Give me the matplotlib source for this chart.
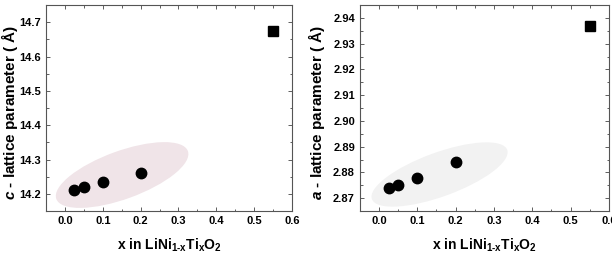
import matplotlib
matplotlib.use("Agg")
import matplotlib.pyplot as plt
from matplotlib.patches import Ellipse
from matplotlib.ticker import MultipleLocator, FormatStrFormatter
from matplotlib.transforms import ScaledTranslation

plt.rcParams['font.family'] = ['Liberation Sans', 'DejaVu Sans']
plt.rcParams['font.weight'] = 'bold'
plt.rcParams['mathtext.fontset'] = 'custom'
plt.rcParams['mathtext.rm'] = 'Liberation Sans:bold'
plt.rcParams['mathtext.it'] = 'Liberation Sans:bold:italic'
plt.rcParams['mathtext.bf'] = 'Liberation Sans:bold'

# LiNi(1-x)Ti(x)O2 samples (circles) and the x = 0.55 point (square)
x_vals = [0.025, 0.05, 0.1, 0.2]
c_vals = [14.21, 14.22, 14.235, 14.26]
a_vals = [2.874, 2.875, 2.878, 2.884]
x_sq = [0.55]
c_sq = [14.675]
a_sq = [2.937]

xlabel = r'x in LiNi$_{\mathrm{1\text{-}x}}$Ti$_{\mathrm{x}}$O$_{\mathrm{2}}$'

fig = plt.figure(figsize=(6.12, 2.58), dpi=100)
ax1 = fig.add_axes([0.0752, 0.182, 0.402, 0.798])
ax2 = fig.add_axes([0.588, 0.182, 0.407, 0.798])


def shade(ax, cx, cy, w, h, ang, color):
    # ellipse sized in inches, centred on a data point
    tr = fig.dpi_scale_trans + ScaledTranslation(cx, cy, ax.transData)
    e = Ellipse((0, 0), w, h, angle=ang, transform=tr,
                facecolor=color, edgecolor='none', zorder=1)
    ax.add_patch(e)


def style(ax, ymaj, ymin):
    ax.set_xlim(-0.05, 0.6)
    ax.xaxis.set_major_locator(MultipleLocator(0.1))
    ax.xaxis.set_minor_locator(MultipleLocator(0.05))
    ax.yaxis.set_major_locator(MultipleLocator(ymaj))
    ax.yaxis.set_minor_locator(MultipleLocator(ymin))
    ax.tick_params(which='both', direction='in', top=True, right=True,
                   labelsize=8, width=0.6, color='#444444')
    ax.tick_params(which='major', length=3)
    ax.tick_params(which='minor', length=1.8)
    for lab in ax.get_xticklabels() + ax.get_yticklabels():
        lab.set_fontweight('bold')
    for s in ax.spines.values():
        s.set_linewidth(0.8)
        s.set_color('#555555')
    ax.set_xlabel(xlabel, fontsize=10, fontweight='bold', labelpad=8)


# c lattice parameter
shade(ax1, 0.151, 14.255, 1.40, 0.48, 20, '#f0e4e8')
ax1.plot(x_vals, c_vals, 'o', color='black', markersize=7.5, zorder=3)
ax1.plot(x_sq, c_sq, 's', color='black', markersize=7.5, zorder=3)
ax1.set_ylim(14.15, 14.75)
style(ax1, 0.1, 0.05)
ax1.yaxis.set_major_formatter(FormatStrFormatter('%.1f'))
ax1.set_ylabel(r'$c$ - lattice parameter ( Å)', fontsize=11,
               fontweight='bold')
ax1.yaxis.set_label_coords(-0.106, 0.48)

# a lattice parameter
shade(ax2, 0.158, 2.8792, 1.44, 0.44, 20, '#f2f2f2')
ax2.plot(x_vals, a_vals, 'o', color='black', markersize=7.5, zorder=3)
ax2.plot(x_sq, a_sq, 's', color='black', markersize=7.5, zorder=3)
ax2.set_ylim(2.865, 2.945)
style(ax2, 0.01, 0.005)
ax2.yaxis.set_major_formatter(FormatStrFormatter('%.2f'))
ax2.set_ylabel(r'$a$ - lattice parameter ( Å)', fontsize=11,
               fontweight='bold')
ax2.yaxis.set_label_coords(-0.132, 0.48)

fig.savefig('out.png', dpi=100)
